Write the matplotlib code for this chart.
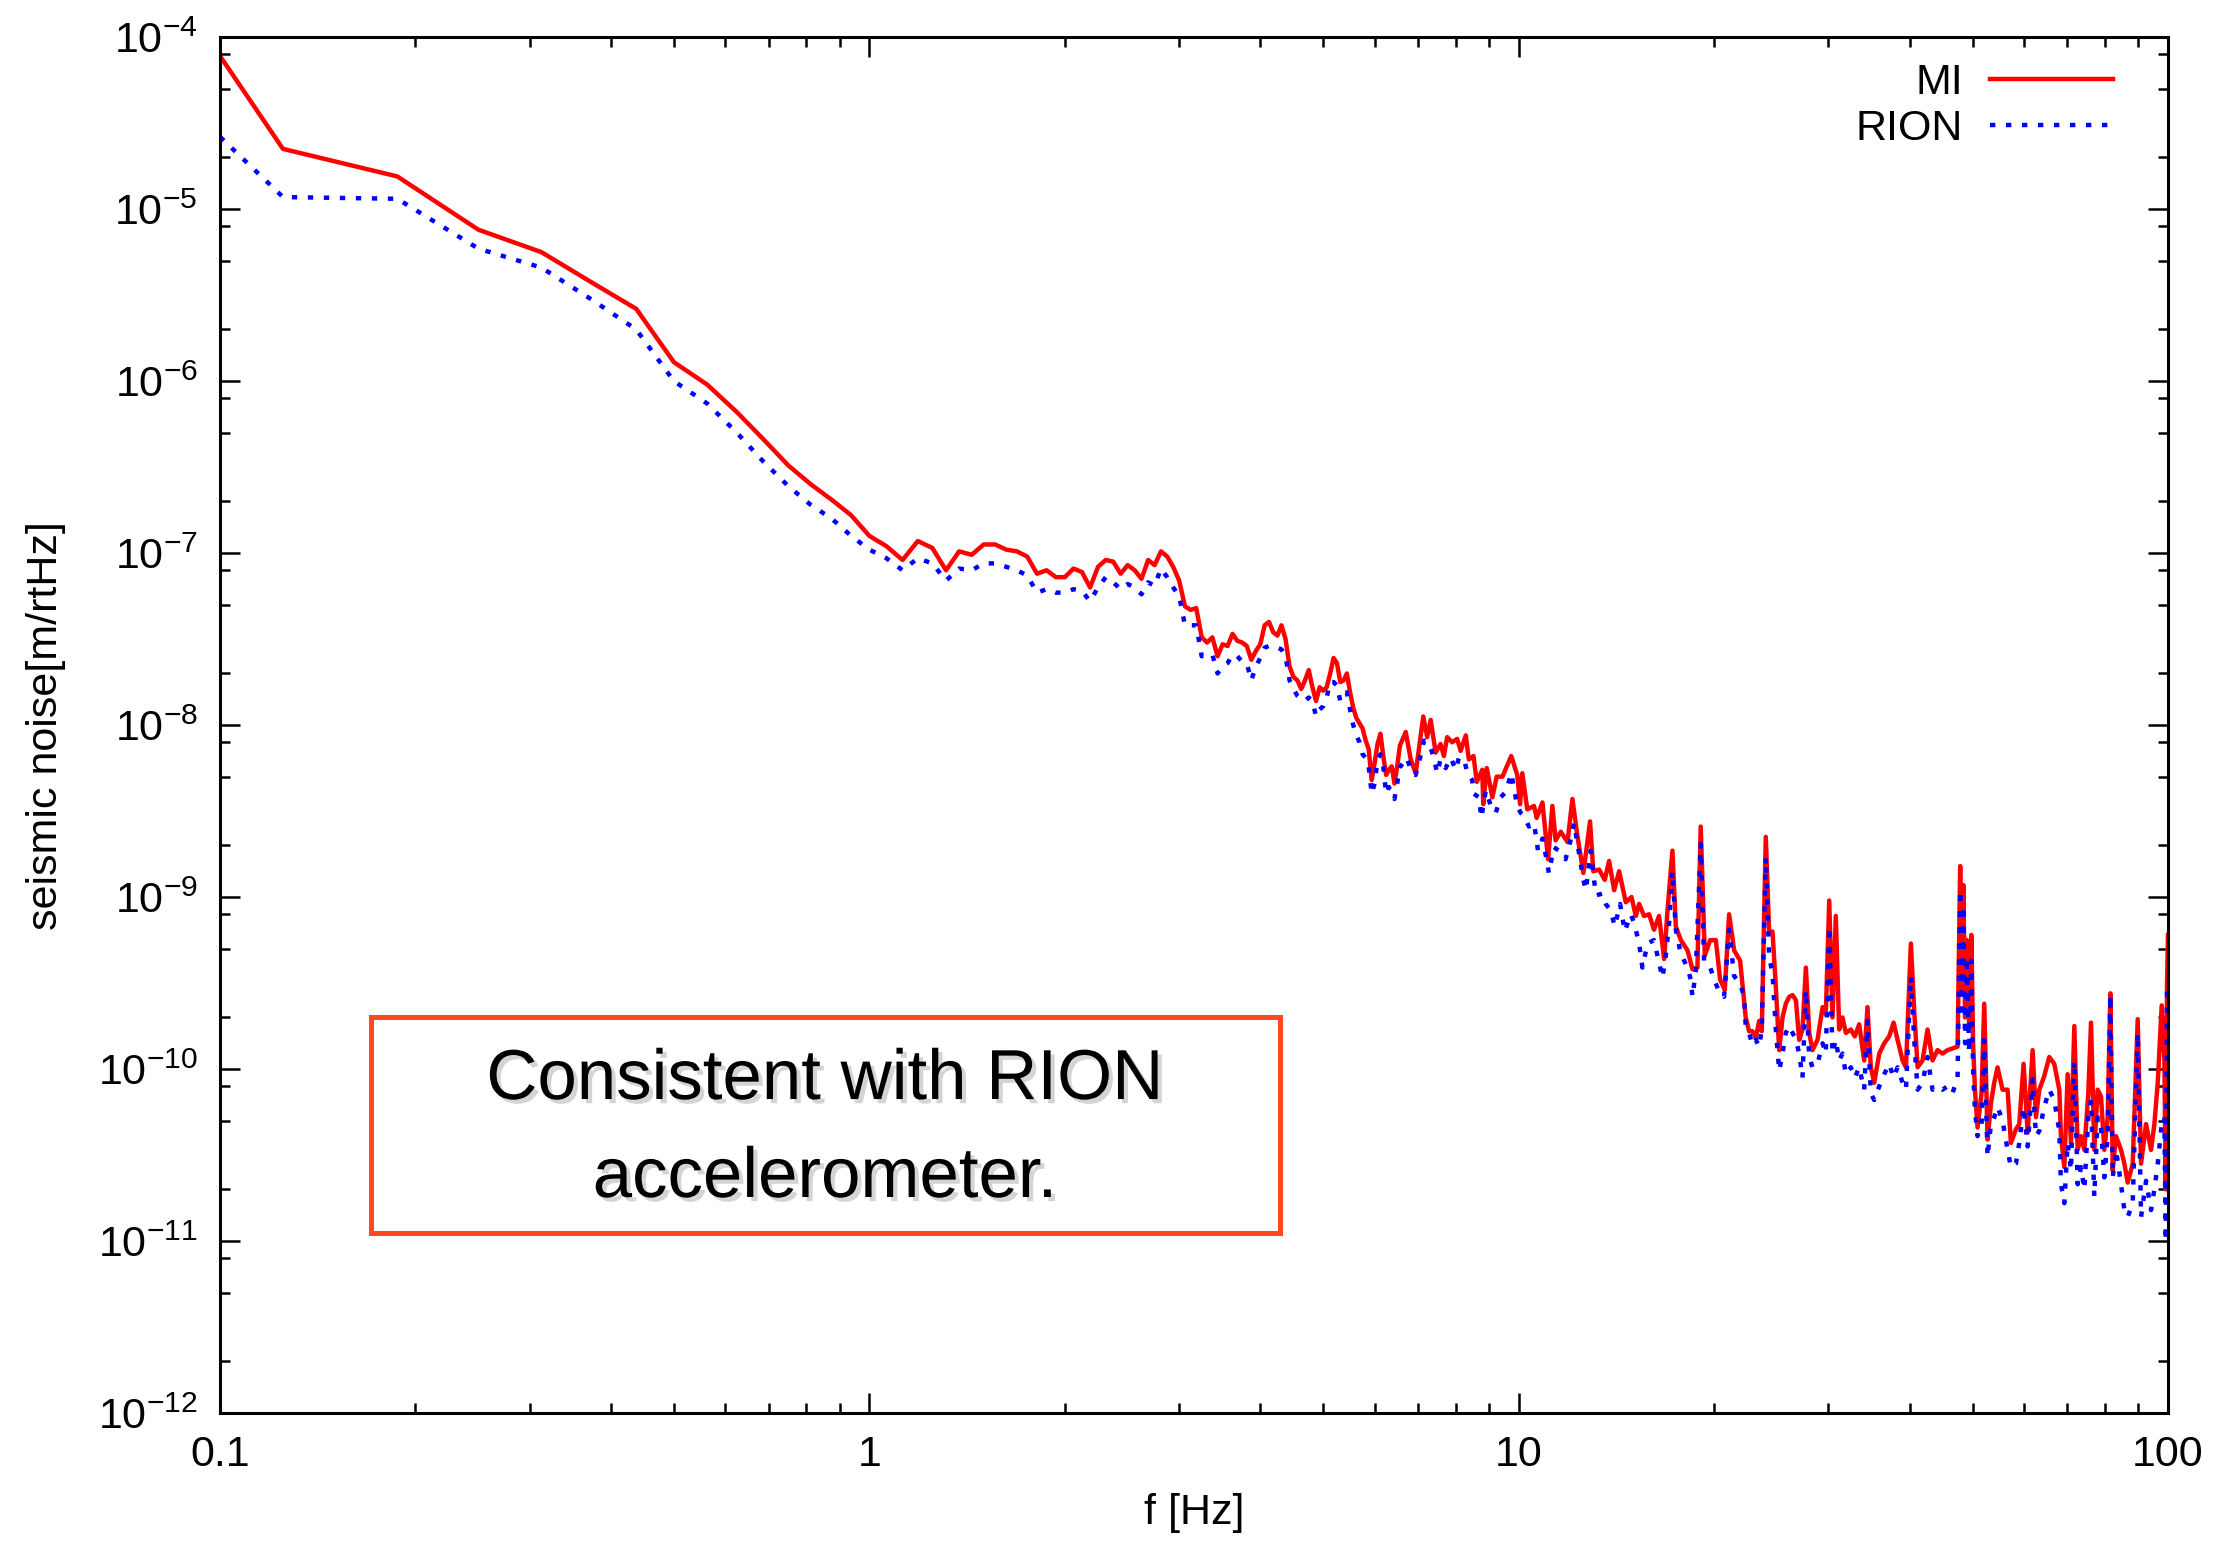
import matplotlib
matplotlib.use('Agg')
import matplotlib.pyplot as plt
import matplotlib.ticker as ticker
import matplotlib.patches as patches
import matplotlib.patheffects as pe
import numpy as np

plt.rcParams['font.family'] = ['Liberation Sans', 'DejaVu Sans']
plt.rcParams['mathtext.default'] = 'regular'

# values below are log10 of the noise [m/rtHz]

# low band, on the FFT grid (df = 1/16 Hz), first point at the plot edge
freq_lo = [0.1] + [0.0625 * k for k in range(2, 106)]
mi_lo = [-4.11, -4.65, -4.81, -5.12, -5.25, -5.43, -5.58, -5.89, -6.02, -6.18,
         -6.34, -6.49, -6.60, -6.69, -6.78, -6.90, -6.96, -7.04, -6.93, -6.97,
         -7.10, -6.99, -7.01, -6.95, -6.95, -6.98, -6.99, -7.02, -7.12, -7.10,
         -7.14, -7.14, -7.09, -7.11, -7.20, -7.08, -7.04, -7.05, -7.12, -7.07,
         -7.10, -7.15, -7.04, -7.07, -6.99, -7.02, -7.08, -7.16, -7.31, -7.33,
         -7.32, -7.49, -7.52, -7.49, -7.60, -7.53, -7.54, -7.47, -7.51, -7.52,
         -7.54, -7.62, -7.57, -7.53, -7.42, -7.40, -7.46, -7.48, -7.42, -7.50,
         -7.66, -7.72, -7.74, -7.79, -7.74, -7.68, -7.78, -7.86, -7.78, -7.80,
         -7.78, -7.70, -7.61, -7.64, -7.75, -7.74, -7.70, -7.81, -7.90, -7.96,
         -7.99, -8.02, -8.09, -8.14, -8.32, -8.22, -8.11, -8.05, -8.18, -8.29,
         -8.26, -8.24, -8.34, -8.24, -8.12]
rion_lo = [-4.58, -4.93, -4.94, -5.23, -5.34, -5.53, -5.70, -6.00, -6.13, -6.30,
           -6.47, -6.61, -6.72, -6.80, -6.90, -6.98, -7.03, -7.10, -7.03, -7.06,
           -7.16, -7.09, -7.10, -7.06, -7.06, -7.08, -7.10, -7.13, -7.23, -7.21,
           -7.23, -7.23, -7.21, -7.22, -7.28, -7.20, -7.14, -7.17, -7.21, -7.18,
           -7.20, -7.24, -7.17, -7.19, -7.09, -7.14, -7.20, -7.25, -7.42, -7.42,
           -7.42, -7.60, -7.59, -7.59, -7.70, -7.66, -7.64, -7.59, -7.60, -7.63,
           -7.64, -7.74, -7.66, -7.61, -7.55, -7.54, -7.55, -7.55, -7.56, -7.60,
           -7.74, -7.79, -7.83, -7.85, -7.86, -7.84, -7.86, -7.95, -7.91, -7.89,
           -7.84, -7.75, -7.75, -7.77, -7.86, -7.82, -7.81, -7.91, -8.00, -8.06,
           -8.10, -8.17, -8.19, -8.24, -8.40, -8.34, -8.20, -8.17, -8.24, -8.40,
           -8.36, -8.40, -8.43, -8.34, -8.24]

# middle band, 6.6 - 22 Hz
freq_mid_mi = [6.70, 6.82, 6.94, 7.13, 7.23, 7.32, 7.45, 7.58, 7.67, 7.76,
               7.90, 8.04, 8.14, 8.29, 8.38, 8.52, 8.62, 8.79, 8.82, 8.93,
               9.11, 9.25, 9.44, 9.74, 9.95, 10.05, 10.13, 10.31, 10.56, 10.66,
               10.88, 11.10, 11.27, 11.40, 11.61, 11.89, 12.10, 12.31, 12.58, 12.88,
               13.03, 13.30, 13.57, 13.78, 14.03, 14.28, 14.62, 14.92, 15.15, 15.33,
               15.60, 15.88, 16.16, 16.45, 16.75, 16.95, 17.25, 17.46, 17.77, 18.20,
               18.52, 18.85, 19.07, 19.35, 19.72, 20.12, 20.43, 20.77, 21.09, 21.47,
               21.93, 22.24]
mi_mid = [-8.04, -8.20, -8.28, -7.95, -8.07, -7.97, -8.16, -8.11, -8.18, -8.07,
          -8.10, -8.08, -8.15, -8.06, -8.20, -8.18, -8.33, -8.26, -8.46, -8.25,
          -8.42, -8.30, -8.30, -8.18, -8.29, -8.46, -8.28, -8.49, -8.47, -8.54,
          -8.45, -8.78, -8.47, -8.67, -8.62, -8.68, -8.43, -8.64, -8.86, -8.56,
          -8.85, -8.84, -8.90, -8.79, -8.96, -8.85, -9.03, -9.00, -9.11, -9.04,
          -9.11, -9.10, -9.19, -9.11, -9.36, -9.08, -8.73, -9.17, -9.25, -9.31,
          -9.42, -9.41, -8.59, -9.34, -9.25, -9.25, -9.48, -9.54, -9.10, -9.31,
          -9.37, -9.60]
freq_mid_rion = [6.58, 6.72, 6.86, 6.94, 7.05, 7.15, 7.28, 7.39, 7.49, 7.58,
                 7.72, 7.86, 8.00, 8.09, 8.24, 8.34, 8.48, 8.53, 8.69, 8.76,
                 8.90, 9.06, 9.22, 9.38, 9.55, 9.74, 9.95, 10.07, 10.19, 10.37,
                 10.56, 10.71, 10.88, 11.04, 11.13, 11.33, 11.53, 11.81, 12.02, 12.17,
                 12.39, 12.58, 12.69, 12.91, 13.15, 13.46, 13.62, 13.86, 14.06, 14.33,
                 14.57, 14.88, 15.06, 15.33, 15.51, 15.79, 16.16, 16.65, 16.85, 17.05,
                 17.25, 17.46, 17.77, 18.20, 18.41, 18.52, 18.74, 19.07, 19.30, 19.65,
                 20.00, 20.36, 20.72, 21.09, 21.47, 21.93, 22.24]
rion_mid = [-8.24, -8.19, -8.28, -8.29, -8.19, -8.09, -8.11, -8.18, -8.28, -8.20,
            -8.25, -8.19, -8.26, -8.19, -8.20, -8.28, -8.32, -8.40, -8.42, -8.54,
            -8.38, -8.47, -8.51, -8.42, -8.39, -8.28, -8.47, -8.51, -8.53, -8.59,
            -8.57, -8.73, -8.66, -8.78, -8.86, -8.71, -8.73, -8.78, -8.67, -8.57,
            -8.75, -8.90, -8.96, -8.73, -8.99, -8.98, -9.04, -9.08, -9.17, -9.04,
            -9.20, -9.10, -9.15, -9.27, -9.41, -9.27, -9.25, -9.47, -9.34, -9.15,
            -8.85, -9.19, -9.33, -9.41, -9.48, -9.58, -9.43, -8.69, -9.37, -9.39,
            -9.48, -9.55, -9.58, -9.19, -9.46, -9.50, -9.58]

# high band, 22 - 100 Hz (lines at 24, 30, 40, 48-50, 52, 72, 76, 82, 90 Hz)
freq_hi = [22.37, 22.64, 22.91, 23.19, 23.46, 23.68, 24.02, 24.31, 24.60, 24.89,
           25.19, 25.49, 25.79, 26.10, 26.41, 26.73, 27.04, 27.36, 27.69, 28.02,
           28.35, 28.86, 29.38, 29.72, 30.08, 30.43, 30.79, 31.16, 31.53, 31.91,
           32.48, 32.94, 33.45, 34.05, 34.45, 34.86, 35.28, 35.92, 36.56, 37.21,
           37.79, 38.33, 39.02, 39.49, 40.18, 40.66, 41.15, 41.88, 42.63, 43.39,
           44.17, 44.96, 45.76, 46.58, 47.42, 47.86, 48.15, 48.40, 48.70, 49.00,
           49.40, 49.80, 50.10, 50.43,
           50.9, 51.63, 52.12, 52.74, 53.37, 54.00, 54.64, 55.62, 56.62, 57.29,
           58.32, 59.01, 59.93, 60.79, 61.88, 62.61, 63.36, 64.49, 65.64, 66.82,
           68.02, 68.42, 69.24, 70.06, 70.89, 71.74, 72.59, 73.45, 74.33, 75.39,
           76.11, 77.01, 77.93, 78.86, 79.80, 80.75, 81.52, 82.20, 83.17, 84.66,
           85.67, 86.69, 88.24, 89.82, 90.89, 92.52, 94.17, 95.29, 96.43, 97.80,
           98.73, 99.2, 99.67, 100.0]
mi_hi = [-9.70, -9.78, -9.78, -9.82, -9.72, -9.78, -8.65, -9.21, -9.20, -9.52,
         -9.89, -9.70, -9.62, -9.58, -9.57, -9.60, -9.83, -9.77, -9.41, -9.79,
         -9.89, -9.83, -9.64, -9.68, -9.02, -9.70, -9.11, -9.77, -9.70, -9.79,
         -9.77, -9.81, -9.74, -9.95, -9.64, -9.99, -10.08, -9.91, -9.85, -9.81,
         -9.73, -9.83, -9.95, -9.99, -9.27, -9.66, -9.99, -9.95, -9.77, -9.95,
         -9.89, -9.91, -9.89, -9.88, -9.87, -8.82, -9.55, -8.93, -9.70, -9.25,
         -9.75, -9.22, -9.85, -10.12,
         -10.34, -10.14, -9.62, -10.41, -10.20, -10.08, -9.99, -10.12, -10.12, -10.43,
         -10.35, -10.32, -9.97, -10.37, -9.89, -10.28, -10.12, -10.04, -9.93, -9.97,
         -10.12, -10.39, -10.57, -10.03, -10.43, -9.75, -10.47, -10.39, -10.47, -10.14,
         -9.73, -10.47, -10.12, -10.16, -10.47, -10.28, -9.56, -10.59, -10.39, -10.47,
         -10.55, -10.66, -10.55, -9.71, -10.55, -10.32, -10.47, -10.32, -10.08, -9.63,
         -9.95, -10.70, -9.50, -9.22]
rion_hi = [-9.75, -9.79, -9.86, -9.83, -9.87, -9.77, -8.77, -9.35, -9.44, -9.77,
           -10.01, -9.91, -9.79, -9.75, -9.79, -9.83, -9.91, -10.05, -9.54, -9.93,
           -9.99, -9.97, -9.85, -9.91, -9.17, -9.91, -9.83, -9.95, -9.91, -10.03,
           -9.99, -10.05, -9.99, -10.12, -9.72, -10.14, -10.18, -10.10, -10.03, -9.97,
           -10.05, -9.99, -10.08, -10.12, -9.46, -9.83, -10.12, -10.08, -9.93, -10.12,
           -10.10, -10.12, -10.10, -10.14, -10.05, -8.96, -9.70, -9.05, -9.85, -9.35,
           -9.90, -9.37, -10.00, -10.24,
           -10.39, -10.32, -9.83, -10.51, -10.32, -10.28, -10.22, -10.30, -10.47, -10.57,
           -10.55, -10.43, -10.22, -10.45, -10.06, -10.39, -10.36, -10.22, -10.12, -10.18,
           -10.36, -10.67, -10.78, -10.43, -10.59, -9.95, -10.67, -10.57, -10.70, -10.28,
           -10.18, -10.74, -10.28, -10.34, -10.63, -10.39, -9.57, -10.63, -10.47, -10.67,
           -10.82, -10.86, -10.78, -9.79, -10.86, -10.65, -10.82, -10.70, -10.55, -10.32,
           -10.28, -11.00, -9.52, -9.60]

f_mi = np.concatenate([freq_lo, freq_mid_mi, freq_hi])
mi = 10.0 ** np.concatenate([mi_lo, mi_mid, mi_hi])
f_rion = np.concatenate([freq_lo, freq_mid_rion, freq_hi])
rion = 10.0 ** np.concatenate([rion_lo, rion_mid, rion_hi])

fig = plt.figure(figsize=(11.135, 7.73), dpi=200)
ax = fig.add_axes([0.0988, 0.086, 0.8747, 0.890])

ax.plot(f_mi, mi, color='#ff0000', lw=1.6, label='MI')
ax.plot(f_rion, rion, color='#0000ff', lw=1.6, dashes=(1.2, 2.4), label='RION')

ax.set_xscale('log')
ax.set_yscale('log')
ax.set_xlim(0.1, 100)
ax.set_ylim(1e-12, 1e-4)

ax.xaxis.set_major_locator(ticker.LogLocator(base=10, numticks=10))
ax.xaxis.set_major_formatter(ticker.FuncFormatter(lambda v, p: '%g' % v))
ax.xaxis.set_minor_locator(ticker.LogLocator(base=10, subs=np.arange(2, 10), numticks=20))
ax.xaxis.set_minor_formatter(ticker.NullFormatter())
ax.yaxis.set_major_locator(ticker.LogLocator(base=10, numticks=20))
ax.yaxis.set_minor_locator(ticker.LogLocator(base=10, subs=(2, 5, 8), numticks=20))
ax.yaxis.set_minor_formatter(ticker.NullFormatter())

ax.tick_params(which='both', direction='in', top=True, right=True, width=0.9,
               labelsize=15.5)
ax.tick_params(which='major', length=7.2, pad=8)
ax.tick_params(which='minor', length=3.6)
for s in ax.spines.values():
    s.set_linewidth(1.1)

ax.set_xlabel('f [Hz]', fontsize=15.5)
ax.set_ylabel('seismic noise[m/rtHz]', fontsize=15.5)
ax.xaxis.set_label_coords(0.5, -0.058)
ax.yaxis.set_label_coords(-0.079, 0.5)

ax.legend(loc='upper right', bbox_to_anchor=(0.9805, 0.9935), borderaxespad=0,
          frameon=False, markerfirst=False, handlelength=2.84, handletextpad=0.63,
          labelspacing=0.14, fontsize=15.5)

# annotation box
box = patches.Rectangle((0.0775, 0.1308), 0.4666, 0.157, transform=ax.transAxes,
                        fill=False, edgecolor='#ff4a1f', linewidth=1.8, zorder=5)
ax.add_patch(box)
shadow = [pe.withSimplePatchShadow(offset=(1.5, -1.5), shadow_rgbFace='0.45', alpha=0.3)]
ax.text(0.3106, 0.2282, 'Consistent with RION', transform=ax.transAxes,
        ha='center', va='baseline', fontsize=25.5, path_effects=shadow, zorder=6)
ax.text(0.3106, 0.157, 'accelerometer.', transform=ax.transAxes,
        ha='center', va='baseline', fontsize=25.5, path_effects=shadow, zorder=6)

fig.savefig('out.png', dpi=200)
